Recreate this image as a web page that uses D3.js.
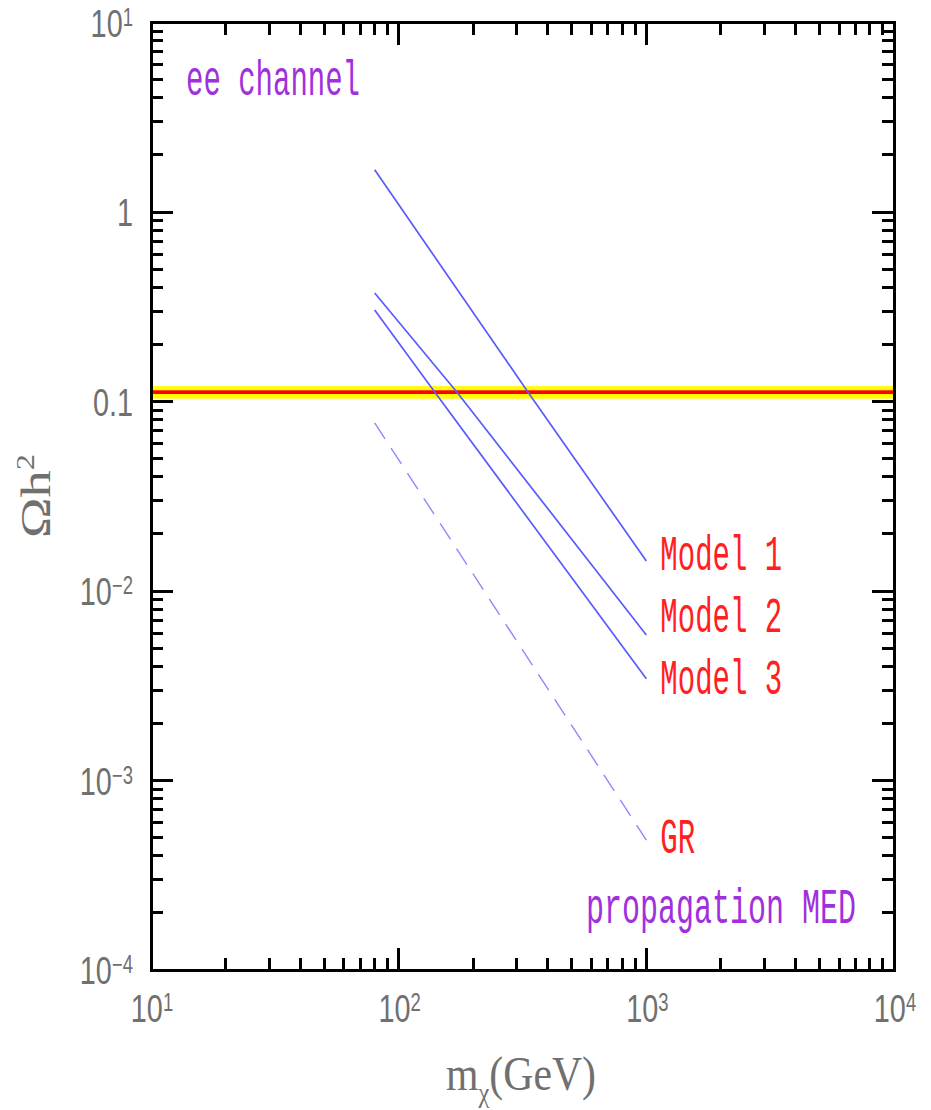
<!DOCTYPE html>
<html>
<head>
<meta charset="utf-8">
<script src="https://cdn.jsdelivr.net/npm/d3@7"></script>
<style>
  html, body { margin: 0; padding: 0; background: #ffffff; }
  svg { display: block; }
</style>
</head>
<body>
<svg id="chart" width="931" height="1110"></svg>
<script>
// Relic density Ωh² against dark-matter mass (ee channel, MED propagation)

// Axis decades and their labels: [mantissa, exponent]
const massDecades = [10, 100, 1000, 10000];
const massDecadeLabels = [["10", "1"], ["10", "2"], ["10", "3"], ["10", "4"]];
const omegaDecades = [1e-4, 1e-3, 1e-2, 0.1, 1, 10];
const omegaDecadeLabels = [["10", "−4"], ["10", "−3"], ["10", "−2"], ["0.1", ""], ["1", ""], ["10", "1"]];

// Model curves: mass in GeV, Ωh²
const model1Mass  = [80, 333, 1000];
const model1Omega = [1.67, 0.112, 0.0144];
const model2Mass  = [80, 172, 1000];
const model2Omega = [0.374, 0.112, 0.00586];
const model3Mass  = [80, 140, 1000];
const model3Omega = [0.304, 0.112, 0.00344];
const grMass      = [80, 1000];
const grOmega     = [0.0771, 0.000485];

const seriesNames = ["Model 1", "Model 2", "Model 3", "GR"];

// Observed relic density band (outer and inner)
const bandOuter = [0.1035, 0.1205];
const bandInner = [0.1095, 0.1146];

// ---------------------------------------------------------------------------
const svg = d3.select("#chart");

const x = d3.scaleLog().domain([10, 1e4]).range([151, 894]);
const y = d3.scaleLog().domain([1e-4, 10]).range([970, 22.5]);

const isDecade = v => Math.abs(Math.log10(v) - Math.round(Math.log10(v))) < 1e-9;

// Band
svg.append("rect")
  .attr("x", x(10)).attr("width", x(1e4) - x(10))
  .attr("y", y(bandOuter[1])).attr("height", y(bandOuter[0]) - y(bandOuter[1]))
  .attr("fill", "#ffff00");
svg.append("rect")
  .attr("x", x(10)).attr("width", x(1e4) - x(10))
  .attr("y", y(bandInner[1])).attr("height", y(bandInner[0]) - y(bandInner[1]))
  .attr("fill", "#ff0000");

// Curves
const series = [
  { name: seriesNames[0], mass: model1Mass, omega: model1Omega, dash: null },
  { name: seriesNames[1], mass: model2Mass, omega: model2Omega, dash: null },
  { name: seriesNames[2], mass: model3Mass, omega: model3Omega, dash: null },
  { name: seriesNames[3], mass: grMass,     omega: grOmega,     dash: "19,11" }
];
const line = d3.line().x(d => x(d[0])).y(d => y(d[1]));

svg.append("g").selectAll("path")
  .data(series)
  .join("path")
  .attr("d", s => line(d3.zip(s.mass, s.omega)))
  .attr("fill", "none")
  .attr("stroke", s => s.dash ? "#8a8aff" : "#5a5aff")
  .attr("stroke-width", s => s.dash ? 1.4 : 1.7)
  .attr("stroke-dasharray", s => s.dash);

// Frame and ticks
const axisG = svg.append("g").attr("shape-rendering", "crispEdges");
axisG.append("rect")
  .attr("x", x(10)).attr("y", y(10))
  .attr("width", x(1e4) - x(10)).attr("height", y(1e-4) - y(10))
  .attr("fill", "none").attr("stroke", "#000").attr("stroke-width", 3);

const majorLen = 22, minorLen = 12;
const xTicks = x.ticks();
const yTicks = y.ticks();

// bottom and top
axisG.selectAll(".xb").data(xTicks).join("line")
  .attr("x1", d => x(d)).attr("x2", d => x(d))
  .attr("y1", y(1e-4)).attr("y2", d => y(1e-4) - (isDecade(d) ? majorLen : minorLen))
  .attr("stroke", "#000").attr("stroke-width", 3);
axisG.selectAll(".xt").data(xTicks).join("line")
  .attr("x1", d => x(d)).attr("x2", d => x(d))
  .attr("y1", y(10)).attr("y2", d => y(10) + (isDecade(d) ? majorLen : minorLen))
  .attr("stroke", "#000").attr("stroke-width", 3);
// left and right
axisG.selectAll(".yl").data(yTicks).join("line")
  .attr("y1", d => y(d)).attr("y2", d => y(d))
  .attr("x1", x(10)).attr("x2", d => x(10) + (isDecade(d) ? majorLen : minorLen))
  .attr("stroke", "#000").attr("stroke-width", 3);
axisG.selectAll(".yr").data(yTicks).join("line")
  .attr("y1", d => y(d)).attr("y2", d => y(d))
  .attr("x1", x(1e4)).attr("x2", d => x(1e4) - (isDecade(d) ? majorLen : minorLen))
  .attr("stroke", "#000").attr("stroke-width", 3);

// Horizontally scaled text block anchored at (px, py)
function scaledText(px, py, sx, family, size, fill, anchor) {
  return svg.append("g")
    .attr("transform", `translate(${px},${py}) scale(${sx},1)`)
    .append("text")
    .attr("font-family", family)
    .attr("font-size", size)
    .attr("fill", fill)
    .attr("text-anchor", anchor || "start");
}

const tickFont = "'Liberation Sans', Arial, sans-serif";
const tickColor = "#707070";
function tickLabel(px, py, parts, anchor) {
  const t = scaledText(px, py, 0.74, tickFont, 39, tickColor, anchor);
  t.append("tspan").text(parts[0]);
  if (parts[1]) t.append("tspan").attr("font-size", 25).attr("dy", -11).text(parts[1]);
}

omegaDecades.forEach((v, i) => tickLabel(133, y(v) + 14, omegaDecadeLabels[i], "end"));
massDecades.forEach((v, i) => tickLabel(x(v) + 1, 1022, massDecadeLabels[i], "middle"));

// Axis titles
const serif = "'Liberation Serif', 'Times New Roman', serif";
const yTitle = svg.append("g")
  .attr("transform", "translate(50,496) rotate(-90) scale(1.3,1)")
  .append("text")
  .attr("font-family", serif).attr("font-size", 42).attr("fill", tickColor)
  .attr("text-anchor", "middle");
yTitle.append("tspan").text("Ωh");
yTitle.append("tspan").attr("font-size", 25).attr("dy", -16).text("2");

const xTitle = scaledText(521, 1090, 0.87, serif, 48, tickColor, "middle");
xTitle.append("tspan").text("m");
xTitle.append("tspan").attr("font-size", 28).attr("dy", 12).text("χ");
xTitle.append("tspan").attr("dy", -12).text("(GeV)");

// Curve labels (baseline offsets from each curve's end point)
const mono = "'Liberation Mono', 'Courier New', monospace";
const labelDy = [9, -3, 15, 13];
series.forEach((s, i) => {
  const last = s.mass.length - 1;
  scaledText(x(s.mass[last]) + 14, y(s.omega[last]) + labelDy[i], 0.58, mono, 50, "#ff2020")
    .text(s.name);
});

// Panel annotations
scaledText(186, 95, 0.58, mono, 50, "#a030dc").text("ee channel");
scaledText(586, 923, 0.6, mono, 50, "#a030dc").text("propagation MED");
</script>
</body>
</html>
